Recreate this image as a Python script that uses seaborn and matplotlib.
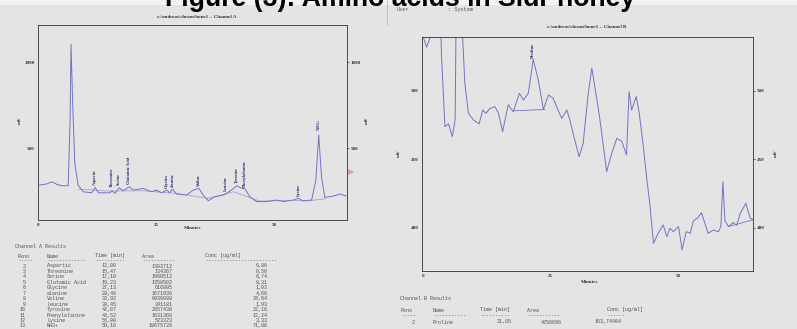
import numpy as np
import pandas as pd
import matplotlib
matplotlib.use("Agg")
import matplotlib.pyplot as plt
import seaborn as sns

# Channel A trace (minutes, mV)
chan_a_time = [0.3, 1.8, 2.9, 4.0, 5.0, 6.4, 6.8, 7.0, 7.35, 7.8, 8.5, 9.6, 11.4, 12.1, 12.8,
               15.25, 15.7, 16.3, 17.2, 18.1, 19.35, 20.2, 22.3, 24.1, 25.1, 26.2, 27.3, 27.9,
               28.5, 29.4, 31.5, 32.9, 34.1, 35.0, 36.1, 37.5, 39.3, 40.0, 41.0, 42.2, 43.2,
               43.9, 44.9, 46.3, 48.5, 50.6, 52.0, 54.1, 55.2, 56.2, 58.0, 58.9, 59.5, 60.1,
               60.8, 62.6, 64.0, 65.3]
chan_a_mv = [285, 291, 304, 289, 281, 281, 663, 1102, 760, 411, 285, 246, 240, 271, 240,
             240, 252, 237, 269, 252, 275, 256, 266, 246, 256, 240, 256, 240,
             260, 233, 227, 256, 266, 227, 194, 217, 227, 237, 256, 281, 266,
             262, 217, 189, 189, 198, 189, 198, 208, 192, 198, 314, 576, 333,
             213, 221, 233, 221]
# integration baseline drawn under the peaks
base_a_time = [8.5, 15.0, 22.0, 29.5, 36.0, 41.5, 47.0, 58.5, 61.0]
base_a_mv = [262, 250, 252, 236, 208, 246, 192, 197, 206]

# labelled peaks, channel A
peak_a_names = ["Aspartic", "Threonine", "Serine", "Glutamic Acid", "Glycine", "alanine",
                "Valine", "Leucine", "Tyrosine", "Phenylalanine", "Lysine", "NH3+"]
peak_a_time = [12.1, 15.6, 17.2, 19.35, 27.3, 28.5, 34.1, 39.8, 42.2, 43.9, 55.2, 59.5]
peak_a_top = [271, 262, 269, 280, 256, 260, 266, 237, 281, 262, 208, 590]

# Channel B trace
chan_b_time = [0.0, 0.7, 1.5, 1.8, 3.3, 3.5, 3.6, 4.3, 5.0, 5.75, 6.3, 6.5, 7.5, 8.2, 8.9,
               9.9, 11.0, 11.7, 12.35, 13.1, 14.1, 14.8, 15.6, 16.7, 17.7, 18.9, 19.7, 20.65,
               21.6, 22.6, 23.6, 24.6, 25.5, 26.2, 27.2, 28.2, 28.8, 29.5, 30.6, 31.4, 32.4,
               33.1, 34.1, 34.7, 36.0, 37.0, 38.0, 39.0, 39.9, 40.4, 40.9, 41.8, 42.4, 43.2,
               43.9, 44.4, 45.2, 46.1, 47.1, 47.8, 48.4, 49.1, 50.1, 50.8, 51.6, 52.4, 53.0,
               53.9, 54.6, 55.3, 55.9, 56.9, 57.9, 58.4, 58.8, 59.2, 59.9, 60.8, 61.5, 62.2,
               63.3, 64.1, 64.7]
chan_b_mv = [540, 532, 540, 560, 560, 545, 527.5, 474, 476, 466.7, 478.8, 560, 560, 505.6, 483.7,
             478.8, 476, 486.1, 483.7, 487.3, 488.5, 483.7, 470.3, 489.8, 484.9, 498.3, 493.4, 498.3,
             523.1, 508, 486.6, 497.1, 494.7, 488.5, 480, 486.1, 478.8, 467.9, 452, 461.8, 498.3,
             516.6, 493.4, 478.8, 441.1, 454.5, 465.5, 463, 453.3, 499.5, 486.1, 495.9, 483.7, 459.3,
             435, 420, 388.8, 396.1, 402.2, 393.7, 399.8, 397.3, 401, 383.9, 397.3, 396.1, 405.1,
             407.5, 411.2, 403, 396.1, 398.5, 397.3, 401, 433.8, 405.1, 401, 404, 402, 410.7,
             418, 407.5, 406]
base_b_time = [17.7, 23.9]
base_b_mv = [485.5, 486.5]
base_b2_time = [59.9, 64.7]
base_b2_mv = [401, 406]

# tables
a_pkno = ["2", "3", "4", "5", "6", "7", "8", "9", "10", "11", "12", "13"]
a_names = ["Aspartic", "Threonine", "Serine", "Glutamic Acid", "Glycine", "alanine", "Valine",
           "Leucine", "Tyrosine", "Phenylalanine", "Lysine", "NH3+"]
a_times = ["12,00", "15,47", "17,10", "19,23", "27,13", "28,40", "33,92", "39,45", "42,07",
           "43,52", "56,00", "59,10"]
a_areas = ["1303712", "134367", "1960512", "1358502", "616805", "1671936", "6936088", "341181",
           "2657438", "1631368", "523323", "18675720"]
a_conc = ["6,86", "0,56", "6,74", "8,31", "1,02", "4,66", "24,64", "1,93", "22,16", "12,24",
          "3,33", "71,80"]

b_pkno = ["2"]
b_names = ["Proline"]
b_times = ["21,85"]
b_areas = ["4256696"]
b_conc = ["163,74464"]

W, H = 797, 329
def fx(px):
    return px / W
def fy(py):
    return 1 - py / H

sns.set_style("white")
plt.rcParams['font.family'] = ['Liberation Serif', 'DejaVu Serif']
bg = '#e4e4e4'
trace = '#6f74c6'
navy = '#2c2c78'
mono = 'Liberation Mono'

fig = plt.figure(figsize=(W / 100, H / 100), dpi=100, facecolor=bg)

# white strip above the scans
fig.add_artist(plt.Rectangle((0, fy(4.5)), 1, 4.5 / H, transform=fig.transFigure,
                             facecolor='#f3f3f3', edgecolor='none', zorder=0))

# ---- Channel A ----
ax1 = fig.add_axes([fx(38), fy(220), fx(347 - 38), (220 - 25) / H])
ax1.set_facecolor(bg)
dfa = pd.DataFrame({'t': chan_a_time, 'mv': chan_a_mv})
sns.lineplot(data=dfa, x='t', y='mv', ax=ax1, color=trace, linewidth=0.7, sort=False, estimator=None)
sns.lineplot(x=base_a_time, y=base_a_mv, ax=ax1, color=trace, linewidth=0.5, alpha=0.7,
             sort=False, estimator=None)
for name, t, top in zip(peak_a_names, peak_a_time, peak_a_top):
    ax1.text(t, top + 14, name, rotation=90, ha='center', va='bottom', fontsize=3.2,
             color=navy, fontweight='bold')
ax1.set_xlim(0, 65.5)
ax1.set_ylim(82, 1215)
ax1.set_xticks([0, 25, 50])
ax1.set_yticks([500, 1000])

# ---- Channel B ----
ax2 = fig.add_axes([fx(422), fy(271), fx(753 - 422), (271 - 37) / H])
ax2.set_facecolor(bg)
dfb = pd.DataFrame({'t': chan_b_time, 'mv': chan_b_mv})
sns.lineplot(data=dfb, x='t', y='mv', ax=ax2, color=trace, linewidth=0.7, sort=False, estimator=None)
sns.lineplot(x=base_b_time, y=base_b_mv, ax=ax2, color=trace, linewidth=0.6, sort=False, estimator=None)
sns.lineplot(x=base_b2_time, y=base_b2_mv, ax=ax2, color=trace, linewidth=0.6, sort=False, estimator=None)
ax2.text(21.6, 524, "Proline", rotation=90, ha='center', va='bottom', fontsize=3.6,
         color=navy, fontweight='bold', clip_on=True)
ax2.set_xlim(-0.2, 64.7)
ax2.set_ylim(368.6, 539.4)
ax2.set_xticks([0, 25, 50])
ax2.set_yticks([400, 450, 500])

for ax in (ax1, ax2):
    ax.set_xlabel('')
    ax.set_ylabel('')
    for s in ax.spines.values():
        s.set_visible(True)
        s.set_linewidth(0.6)
        s.set_color('#333333')
    ax.tick_params(axis='both', length=1.5, width=0.5, pad=1, labelsize=3.6,
                   colors='#333333', direction='out')
    ax.tick_params(axis='y', right=True, labelright=True)
    for lab in ax.get_xticklabels() + ax.get_yticklabels():
        lab.set_fontweight('bold')

# panel headers and axis labels
fig.text(fx(197), fy(17), r"c:\andreas\chrom\hone1 -- Channel A", ha='center', va='center',
         fontsize=3.6, fontweight='bold', color='#333333')
fig.text(fx(587), fy(27), r"c:\andreas\chrom\hone1 -- Channel B", ha='center', va='center',
         fontsize=3.6, fontweight='bold', color='#333333')
fig.text(fx(193), fy(228), "Minutes", ha='center', va='center', fontsize=3.6,
         fontweight='bold', color='#333333')
fig.text(fx(590), fy(282), "Minutes", ha='center', va='center', fontsize=3.6,
         fontweight='bold', color='#333333')
for px, py in [(20, 120), (367, 120), (399, 153), (776, 153)]:
    fig.text(fx(px), fy(py), "mV", rotation=90, ha='center', va='center', fontsize=3.6,
             fontweight='bold', color='#333333')

# pink scan mark beside channel A
fig.text(fx(351), fy(172), u"\u25B6", ha='center', va='center', fontsize=6, color='#d9a0b0')

# separator of the two scans
fig.add_artist(plt.Line2D([fx(387), fx(387)], [fy(0), fy(25)], color='#bbbbbb', linewidth=0.6))

fig.text(fx(397), fy(9.5), "User", ha='left', va='center', fontsize=3.8, family=mono, color='#555555')
fig.text(fx(448), fy(9.5), ": System", ha='left', va='center', fontsize=3.8, family=mono, color='#555555')

# main title, clipped at the top edge as in the scan
fig.text(fx(400), fy(6.5), "Figure (3): Amino acids in Sidr honey", ha='center', va='baseline',
         fontsize=19.2, fontweight='bold', family=['Liberation Sans', 'DejaVu Sans'], color='black')

# ---- result tables ----
tk = dict(fontsize=3.6, family=mono, color='#505050', va='center')
fig.text(fx(15), fy(246), "Channel A Results", ha='left', **tk)
fig.text(fx(18), fy(256), "Pkno", ha='left', **tk)
fig.text(fx(47), fy(256), "Name", ha='left', **tk)
fig.text(fx(95), fy(256), "Time [min]", ha='left', **tk)
fig.text(fx(142), fy(256), "Area", ha='left', **tk)
fig.text(fx(205), fy(256), "Conc [ug/ml]", ha='left', **tk)
fig.text(fx(18), fy(260.5), "-----", ha='left', **tk)
fig.text(fx(47), fy(260.5), "-------------", ha='left', **tk)
fig.text(fx(95), fy(260.5), "----------", ha='left', **tk)
fig.text(fx(142), fy(260.5), "-----------", ha='left', **tk)
fig.text(fx(205), fy(260.5), "------------------------", ha='left', **tk)
for i in range(len(a_names)):
    py = 266 + i * 5.45
    fig.text(fx(26), fy(py), a_pkno[i], ha='right', **tk)
    fig.text(fx(47), fy(py), a_names[i], ha='left', **tk)
    fig.text(fx(117), fy(py), a_times[i], ha='right', **tk)
    fig.text(fx(173), fy(py), a_areas[i], ha='right', **tk)
    fig.text(fx(268), fy(py), a_conc[i], ha='right', **tk)

fig.text(fx(400), fy(298), "Channel B Results", ha='left', **tk)
fig.text(fx(401), fy(310), "Pkno", ha='left', **tk)
fig.text(fx(433), fy(310), "Name", ha='left', **tk)
fig.text(fx(480), fy(310), "Time [min]", ha='left', **tk)
fig.text(fx(527), fy(310), "Area", ha='left', **tk)
fig.text(fx(607), fy(310), "Conc [ug/ml]", ha='left', **tk)
fig.text(fx(401), fy(316), "-----", ha='left', **tk)
fig.text(fx(433), fy(316), "-----------", ha='left', **tk)
fig.text(fx(480), fy(316), "----------", ha='left', **tk)
fig.text(fx(527), fy(316), "-----------", ha='left', **tk)
fig.text(fx(607), fy(316), "------", ha='left', **tk)
for i in range(len(b_names)):
    py = 322 + i * 5.45
    fig.text(fx(415), fy(py), b_pkno[i], ha='right', **tk)
    fig.text(fx(433), fy(py), b_names[i], ha='left', **tk)
    fig.text(fx(512), fy(py), b_times[i], ha='right', **tk)
    fig.text(fx(562), fy(py), b_areas[i], ha='right', **tk)
    fig.text(fx(622), fy(py), b_conc[i], ha='right', **tk)

fig.savefig('out.png', dpi=100, facecolor=bg)
